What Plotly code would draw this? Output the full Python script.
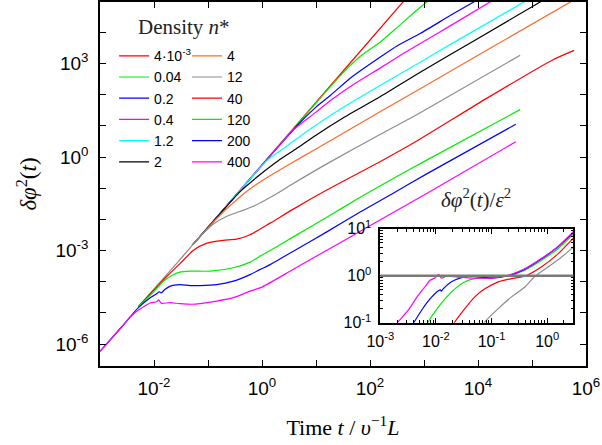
import plotly.graph_objects as go

# ---------------- data: log10(t) and log10(delta phi^2) ----------------
# main panel
n4e3_logt = [-1.28, -0.5, 0.5, 1.5, 2.65]
n4e3_logy = [-2.81, -1.25, 0.75, 2.75, 5.05]

n004_logt = [-1.28, -0.5, 0.5, 1.2, 1.5, 1.8, 2.185, 2.5, 2.93, 3.15]
n004_logy = [-2.81, -1.26, 0.74, 2.13, 2.70, 3.20, 3.68, 4.15, 4.80, 5.1]

n02_logt = [-1.28, -0.5, 0.3, 0.7, 1.0, 1.27, 1.6, 1.9, 2.185, 2.5, 2.93, 3.5, 4.0]
n02_logy = [-2.81, -1.26, 0.33, 1.1, 1.6, 1.98, 2.48, 2.86, 3.2, 3.56, 3.96, 4.55, 5.05]

n04_logt = [-1.28, -0.5, 0.2, 0.6, 0.97, 1.3, 1.7, 2.185, 2.6, 2.93, 3.5, 4.3]
n04_logy = [-2.81, -1.26, 0.14, 0.9, 1.40, 1.85, 2.33, 2.85, 3.30, 3.64, 4.22, 5.05]

n12_logt = [-1.28, -0.6, -0.2, 0.1, 0.37, 0.7, 0.95, 1.3, 1.8, 2.185, 2.93, 3.5, 4.9]
n12_logy = [-2.81, -1.46, -0.66, -0.1, 0.24, 0.66, 0.96, 1.37, 1.90, 2.29, 3.04, 3.62, 5.02]

n2_logt = [-1.28, -0.8, -0.4, -0.04, 0.3, 0.64, 1.0, 1.5, 2.185, 2.93, 4.0, 5.2]
n2_logy = [-2.81, -1.86, -1.1, -0.57, -0.12, 0.27, 0.70, 1.25, 1.93, 2.72, 3.80, 5.02]

n4_logt = [-1.30, -1.0, -0.75, -0.5, -0.25, 0.0, 0.5, 1.0, 2.185, 2.93, 4.16, 5.72]
n4_logy = [-2.83, -2.27, -1.82, -1.42, -1.06, -0.76, -0.24, 0.26, 1.45, 2.19, 3.42, 4.98]

n12b_logt = [-2.29, -1.6, -1.3, -1.1, -0.9, -0.65, -0.4, -0.15, 0.15, 0.58, 1.2, 2.185, 2.93, 4.78]
n12b_logy = [-4.8, -3.45, -2.85, -2.47, -2.15, -1.90, -1.74, -1.57, -1.30, -0.85, -0.22, 0.72, 1.42, 3.26]

n40_logt = [-2.29, -2.01, -1.77, -1.52, -1.27, -1.02, -0.72, -0.47, -0.22, 0.15, 0.58, 1.2, 2.185, 2.93, 4.16, 5.39, 5.78]
n40_logy = [-4.8, -4.28, -3.84, -3.42, -2.99, -2.76, -2.67, -2.63, -2.49, -2.12, -1.67, -1.06, -0.15, 0.58, 1.88, 3.12, 3.42]

n120_logt = [-2.29, -2.01, -1.83, -1.67, -1.52, -1.33, -0.96, -0.53, -0.22, -0.04, 0.15, 0.58, 1.2, 1.81, 2.43, 3.05, 4.78]
n120_logy = [-4.8, -4.33, -3.99, -3.80, -3.69, -3.66, -3.66, -3.55, -3.37, -3.18, -3.0, -2.56, -1.93, -1.30, -0.69, -0.10, 1.52]

n200_logt = [-3.0, -2.6, -2.29, -2.07, -1.95, -1.90, -1.87, -1.80, -1.70, -1.52, -1.33, -1.15, -0.84, -0.53,
             -0.22, -0.04, 0.15, 0.58, 1.2, 1.81, 2.43, 3.05, 4.70]
n200_logy = [-6.23, -5.45, -4.83, -4.51, -4.38, -4.32, -4.36, -4.25, -4.14, -4.09, -4.12, -4.12, -4.09, -3.98,
             -3.77, -3.61, -3.45, -3.02, -2.40, -1.77, -1.16, -0.54, 1.05]

n400_logt = [-3.0, -2.6, -2.44, -2.3, -2.17, -2.07, -1.95, -1.91, -1.88, -1.86, -1.70, -1.52, -1.30, -1.15,
             -0.84, -0.53, -0.22, 0.0, 0.58, 1.2, 1.81, 2.43, 3.05, 4.70]
n400_logy = [-6.23, -5.45, -5.13, -4.92, -4.78, -4.68, -4.64, -4.58, -4.66, -4.69, -4.67, -4.70, -4.72, -4.70,
             -4.62, -4.51, -4.30, -4.17, -3.60, -2.99, -2.39, -1.78, -1.17, 0.49]

# inset: log10(t) and log10(delta phi^2 / eps^2)
ins400_logt = [-2.72, -2.68, -2.50, -2.32, -2.20, -2.11, -2.02, -1.95, -1.93, -1.90, -1.81, -1.60, -1.30, -1.0,
               -0.70, -0.40, -0.10, 0.20, 0.47]
ins400_logy = [-1.05, -0.985, -0.74, -0.42, -0.24, -0.10, -0.05, 0.03, 0.0, -0.05, -0.01, -0.03, -0.05, -0.05,
               0.01, 0.15, 0.37, 0.63, 0.94]
ins200_logt = [-2.43, -2.39, -2.26, -2.11, -1.99, -1.92, -1.90, -1.87, -1.72, -1.57, -1.36, -1.20, -1.0, -0.70,
               -0.40, -0.10, 0.20, 0.47]
ins200_logy = [-1.05, -0.985, -0.74, -0.50, -0.35, -0.30, -0.33, -0.28, -0.13, -0.05, -0.01, -0.03, -0.05, 0.0,
               0.14, 0.36, 0.62, 0.92]
ins120_logt = [-2.17, -2.14, -2.02, -1.84, -1.66, -1.48, -1.30, -1.0, -0.70, -0.40, -0.10, 0.20, 0.47]
ins120_logy = [-1.05, -0.985, -0.77, -0.50, -0.28, -0.13, -0.06, -0.04, 0.0, 0.12, 0.33, 0.58, 0.88]
ins40_logt = [-1.69, -1.66, -1.48, -1.30, -1.12, -0.88, -0.64, -0.40, -0.10, 0.20, 0.47]
ins40_logy = [-1.05, -0.985, -0.70, -0.45, -0.28, -0.13, -0.06, -0.01, 0.19, 0.47, 0.80]
ins12_logt = [-1.15, -1.12, -0.88, -0.64, -0.40, -0.22, 0.02, 0.26, 0.47]
ins12_logy = [-1.05, -0.985, -0.70, -0.45, -0.24, -0.01, 0.19, 0.40, 0.61]

plateau_level = 1.0  # reference line in the inset

# tick labels
main_x_decades = list(range(-3, 7))
main_x_labelled = [-2, 0, 2, 4, 6]
main_y_decades = list(range(-6, 5))
main_y_labelled = [-6, -3, 0, 3]
inset_x_decades = [-3, -2, -1, 0]
inset_y_decades = [-1, 0, 1]

legend_labels = ["4\u00b710<sup>-3</sup>", "0.04", "0.2", "0.4", "1.2", "2",
                 "4", "12", "40", "120", "200", "400"]

# ---------------- styles ----------------
RED, GREEN, BLUE, MAG, CYAN, BLACK, ORANGE, GRAY = (
    "#ff0000", "#00ee00", "#0000ff", "#ff00ff", "#00ffff", "#000000", "#ff6a2a", "#8c8c8c")

main_series = [
    (n4e3_logt, n4e3_logy, RED), (n004_logt, n004_logy, GREEN), (n02_logt, n02_logy, BLUE),
    (n04_logt, n04_logy, MAG), (n12_logt, n12_logy, CYAN), (n2_logt, n2_logy, BLACK),
    (n4_logt, n4_logy, ORANGE), (n12b_logt, n12b_logy, GRAY), (n40_logt, n40_logy, RED),
    (n120_logt, n120_logy, GREEN), (n200_logt, n200_logy, BLUE), (n400_logt, n400_logy, MAG),
]
inset_series = [
    (ins12_logt, ins12_logy, GRAY), (ins40_logt, ins40_logy, RED), (ins120_logt, ins120_logy, GREEN),
    (ins200_logt, ins200_logy, BLUE), (ins400_logt, ins400_logy, MAG),
]

SANS = "Liberation Sans, Arial, sans-serif"
SERIF = "Liberation Serif, Times New Roman, serif"

fig = go.Figure()
for i, (lt, ly, col) in enumerate(main_series):
    fig.add_trace(go.Scatter(
        x=[10 ** v for v in lt], y=[10 ** v for v in ly], mode="lines",
        line=dict(color=col, width=1.2, shape="spline", smoothing=0.6),
        name=legend_labels[i], legend="legend" if i < 6 else "legend2",
        xaxis="x", yaxis="y"))

for lt, ly, col in inset_series:
    fig.add_trace(go.Scatter(
        x=[10 ** v for v in lt], y=[10 ** v for v in ly], mode="lines",
        line=dict(color=col, width=1.2, shape="spline", smoothing=0.6),
        showlegend=False, xaxis="x2", yaxis="y2"))

fig.add_shape(type="line", xref="x2 domain", yref="y2", x0=0, x1=1,
              y0=plateau_level, y1=plateau_level, line=dict(color="#7a7a7a", width=2.5))


def dec_label(k):
    return "10<sup>%d</sup>" % k


axis_common = dict(type="log", showline=True, linecolor="black", linewidth=1.5, mirror="ticks",
                   ticks="inside", ticklen=6, tickwidth=1, tickcolor="black", showgrid=False,
                   zeroline=False, automargin=False)

minor_x = [m * 10 ** k for k in inset_x_decades for m in range(2, 10)]
minor_y = [m * 10 ** k for k in inset_y_decades for m in range(2, 10)]

fig.update_layout(
    width=602, height=445,
    margin=dict(l=100, r=16, t=2, b=79, autoexpand=False),
    paper_bgcolor="white", plot_bgcolor="white",
    font=dict(family=SANS, color="black"),
    xaxis=dict(**axis_common, domain=[0, 1], anchor="y", range=[-3, 6],
               tickmode="array", tickvals=[10 ** k for k in main_x_decades],
               ticktext=[dec_label(k) if k in main_x_labelled else "" for k in main_x_decades],
               tickfont=dict(family=SANS, size=19), ticklabelstandoff=4,
               title=dict(text="Time <i>t</i> / <i>\u03c5</i><sup>\u22121</sup><i>L</i>",
                          font=dict(family=SERIF, size=22), standoff=22)),
    yaxis=dict(**axis_common, domain=[0, 1], anchor="x", range=[-6.70, 4.97],
               tickmode="array", tickvals=[10 ** k for k in main_y_decades],
               ticktext=[dec_label(k) if k in main_y_labelled else "" for k in main_y_decades],
               tickfont=dict(family=SANS, size=19), ticklabelstandoff=6,
               title=dict(text="<i>\u03b4\u03c6</i><sup>2</sup>(<i>t</i>)",
                          font=dict(family=SERIF, size=23), standoff=12)),
    xaxis2=dict(**{**axis_common, "ticklen": 5}, domain=[0.5767, 0.9739], anchor="y2", range=[-3, 0.47],
                tickmode="array", tickvals=[10 ** k for k in inset_x_decades],
                ticktext=[dec_label(k) for k in inset_x_decades],
                tickfont=dict(family=SANS, size=16), ticklabelstandoff=3,
                minor=dict(tickmode="array", tickvals=minor_x, ticks="inside", ticklen=3,
                           tickcolor="black", showgrid=False)),
    yaxis2=dict(**{**axis_common, "ticklen": 5}, domain=[0.119, 0.377], anchor="x2", range=[-1, 1],
                tickmode="array", tickvals=[10 ** k for k in inset_y_decades],
                ticktext=[dec_label(k) for k in inset_y_decades],
                tickfont=dict(family=SANS, size=16), ticklabelstandoff=4,
                minor=dict(tickmode="array", tickvals=minor_y, ticks="inside", ticklen=3,
                           tickcolor="black", showgrid=False)),
    legend=dict(x=0.029, y=0.895, xanchor="left", yanchor="top", bgcolor="rgba(0,0,0,0)",
                font=dict(family=SANS, size=14), itemwidth=30, tracegroupgap=0),
    legend2=dict(x=0.179, y=0.895, xanchor="left", yanchor="top", bgcolor="rgba(0,0,0,0)",
                 font=dict(family=SANS, size=14), itemwidth=30, tracegroupgap=0),
    annotations=[
        dict(text="Density <i>n</i>*", xref="paper", yref="paper", x=0.074, y=0.931,
             xanchor="left", yanchor="middle", showarrow=False,
             font=dict(family=SERIF, size=21, color="#222")),
        dict(text="<i>\u03b4\u03c6</i><sup>2</sup>(<i>t</i>)/<i>\u03b5</i><sup>2</sup>",
             xref="paper", yref="paper", x=0.774, y=0.46, xanchor="center", yanchor="middle",
             showarrow=False, font=dict(family=SERIF, size=21, color="#222")),
    ],
)

fig.write_html("out.html")
